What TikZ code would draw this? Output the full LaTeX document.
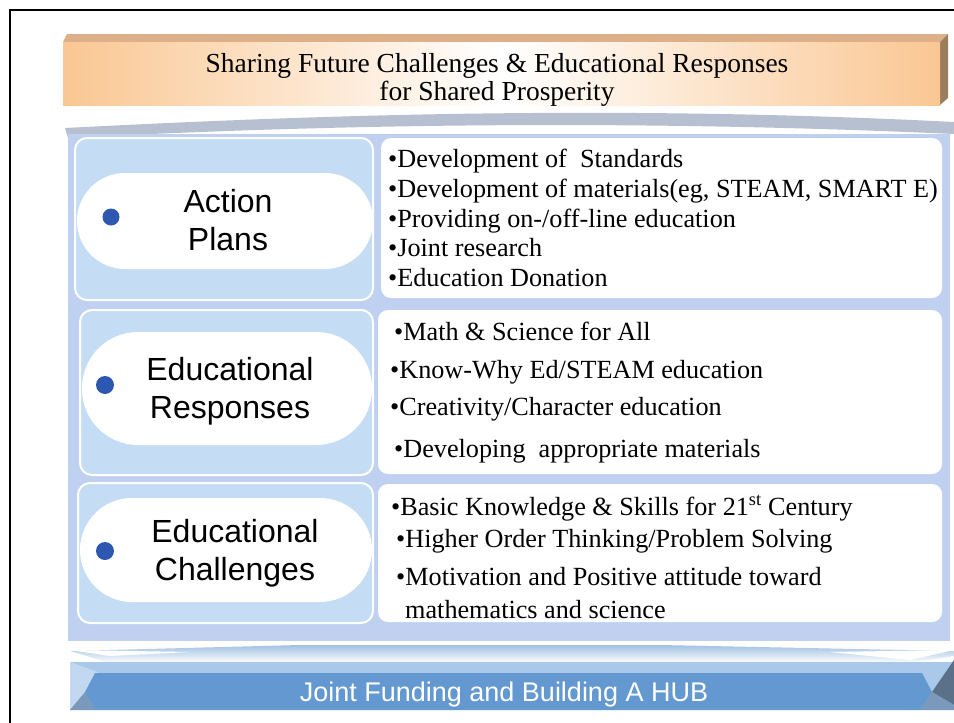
\documentclass[tikz,border=0pt]{standalone}
\usepackage{fontspec}
\setmainfont{Liberation Serif}
\newfontfamily\labelfont{Liberation Sans}
\usetikzlibrary{positioning}

% Colours
\definecolor{titleorange}{HTML}{FAC793}
\definecolor{titletop}{HTML}{DDB089}
\definecolor{titleside}{HTML}{9C7E5C}
\definecolor{lidgray}{HTML}{B6C0D0}
\definecolor{panelblue}{HTML}{BFD0F0}
\definecolor{cellblue}{HTML}{C5DCF5}
\definecolor{dotblue}{HTML}{2D57B0}
\definecolor{bandblue}{HTML}{A9C8EA}
\definecolor{bannerblue}{HTML}{6398D0}
\definecolor{palecorner}{HTML}{C2D8F0}
\definecolor{darkcorner}{HTML}{5B7089}
\definecolor{midcorner}{HTML}{7B99BB}

\tikzset{
    leftbox/.style={draw=white, line width=2pt, fill=cellblue, rounded corners=12pt},
    itembox/.style={fill=white, rounded corners=10pt},
    labeltext/.style={font=\labelfont\fontsize{32}{38}\selectfont, anchor=base, inner sep=0pt},
    itemtext/.style={font=\fontsize{26.2}{30}\selectfont, anchor=base west, inner sep=0pt},
    titletext/.style={font=\fontsize{27.5}{30}\selectfont, anchor=base, inner sep=0pt}
}

\begin{document}
\begin{tikzpicture}[x=1pt, y=-1pt]
    \useasboundingbox (0,0) rectangle (954,723);

    % Frame
    \draw [line width=2pt] (954,10) -- (10,10) -- (10,723);

    % ---- Title bar ----
    \fill [titletop] (63,42) -- (67,34) -- (948,34) -- (940,42) -- cycle;
    \fill [titleside] (940,42) -- (948,34) -- (948,98) -- (940,105) -- cycle;
    \shade [left color=titleorange, right color=titleorange, middle color=white]
        (63,42) rectangle (940,105);
    \node [titletext] (title1) at (497,72) {Sharing Future Challenges \& Educational Responses};
    \node [titletext] (title2) at (497,100) {for Shared Prosperity};

    % ---- Lid ----
    \fill [lidgray] (65,128) .. controls (300,116) and (600,104) .. (954,122)
        -- (954,134) .. controls (600,118) and (300,126) .. (68,138) -- cycle;

    % ---- Main panel ----
    \fill [panelblue] (68,134) rectangle (950,641);

    % Action plans
    \draw [leftbox] (75,138) rectangle (373,300);
    \fill [white, rounded corners=48pt] (77,173) rectangle (373,269);
    \fill [dotblue] (111,217) circle [radius=8.5];
    \node [labeltext] (actionA) at (228,212) {Action};
    \node [labeltext] (actionB) at (228,250) {Plans};

    \fill [itembox] (381,138) rectangle (942,298);
    \node [itemtext] (ap1) at (388,167) {\textbullet Development of\ \ Standards};
    \node [itemtext] (ap2) at (388,197) {\textbullet Development of materials(eg, STEAM, SMART E)};
    \node [itemtext] (ap3) at (388,227) {\textbullet Providing on-/off-line education};
    \node [itemtext] (ap4) at (388,256) {\textbullet Joint research};
    \node [itemtext] (ap5) at (388,286) {\textbullet Education Donation};

    % Educational responses
    \draw [leftbox] (80,310) rectangle (373,475);
    \fill [white, rounded corners=56pt] (82,332) rectangle (372,445);
    \fill [dotblue] (105,385) circle [radius=9];
    \node [labeltext] (respA) at (230,380) {Educational};
    \node [labeltext] (respB) at (230,418) {Responses};

    \fill [itembox] (378,310) rectangle (942,474);
    \node [itemtext] (er1) at (394,340) {\textbullet Math \& Science for All};
    \node [itemtext] (er2) at (390,378) {\textbullet Know-Why Ed/STEAM education};
    \node [itemtext] (er3) at (390,415) {\textbullet Creativity/Character education};
    \node [itemtext] (er4) at (394,457) {\textbullet Developing\ \ appropriate materials};

    % Educational challenges
    \draw [leftbox] (78,483) rectangle (373,623);
    \fill [white, rounded corners=52pt] (80,498) rectangle (372,602);
    \fill [dotblue] (105,551) circle [radius=9];
    \node [labeltext] (challA) at (235,542) {Educational};
    \node [labeltext] (challB) at (235,580) {Challenges};

    \fill [itembox] (378,484) rectangle (942,622);
    \node [itemtext] (ec1) at (391,515) {\textbullet Basic Knowledge \& Skills for 21\textsuperscript{st} Century};
    \node [itemtext] (ec2) at (396,547) {\textbullet Higher Order Thinking/Problem Solving};
    \node [itemtext] (ec3) at (396,585) {\textbullet Motivation and Positive attitude toward};
    \node [itemtext] (ec4) at (405,618) {mathematics and science};

    % ---- Base ----
    \shade [top color=bannerblue!60, bottom color=white]
        (70,651) -- (300,645) -- (660,645) -- (954,651) -- (954,656) -- (910,663) -- (110,663) -- cycle;
    \fill [white] (70,650) -- (190,652) -- (110,656) -- cycle;
    \fill [white] (954,650) -- (830,652) -- (910,660) -- cycle;
    \fill [bandblue] (70,662) rectangle (954,710);
    \fill [palecorner] (70,662) -- (100,673) -- (85,692) -- (70,710) -- cycle;
    \fill [midcorner] (70,710) -- (85,692) -- (95,710) -- cycle;
    \fill [darkcorner] (932,692) -- (954,660) -- (954,705) -- cycle;
    \fill [midcorner] (920,710) -- (932,692) -- (954,705) -- (954,710) -- cycle;
    \fill [bannerblue] (95,673) -- (922,673) -- (932,692) -- (920,710) -- (95,710) -- (85,692) -- cycle;
    \node [font=\labelfont\fontsize{27}{30}\selectfont, text=white, anchor=base, inner sep=0pt] (hub) at (504,701) {Joint Funding and Building A HUB};
\end{tikzpicture}
\end{document}
